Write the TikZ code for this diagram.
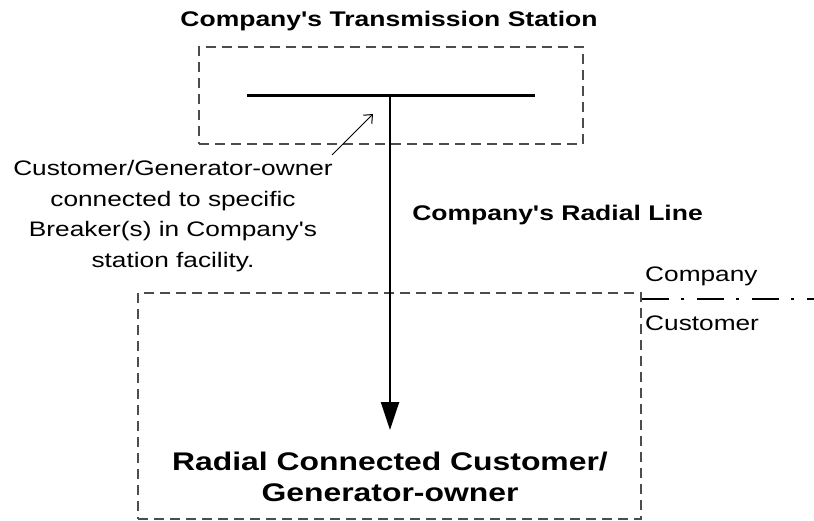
\documentclass[tikz,border=0pt]{standalone}
\usepackage{fontspec}
\newfontfamily\diagfont[FakeStretch=1.25]{Liberation Sans}
\usetikzlibrary{arrows.meta}

\begin{document}
\begin{tikzpicture}[x=1pt, y=-1pt,
  area/.style = {rectangle, draw=black!70, line width=1.7pt, dash pattern=on 10pt off 6pt},
  heading/.style = {font=\diagfont\bfseries\fontsize{21.2}{26}\selectfont, inner sep=0pt},
  plain/.style = {font=\diagfont\fontsize{21}{30.7}\selectfont, inner sep=0pt, align=center}]
  \useasboundingbox (0,0) rectangle (814,521);
  \node[area, minimum width=384pt, minimum height=97pt] (station) at (391,95.5) {};
  \node[area, minimum width=503pt, minimum height=226pt] (custbox) at (389.5,406) {};
  \node[heading] (title) at (389,21) {Company's Transmission Station};
  \node[heading] (radlabel) at (557.5,215) {Company's Radial Line};
  \node[plain] (note) at (173,216) {Customer/Generator-owner\\connected to specific\\Breaker(s) in Company's\\station facility.};
  \node[plain, anchor=west] (company) at (645,276) {Company};
  \node[plain, anchor=west] (customer) at (645,323) {Customer};
  \node[heading, font=\diagfont\bfseries\fontsize{25.5}{31}\selectfont, align=center] (custtext) at (390,477) {Radial Connected Customer/\\Generator-owner};
  \coordinate (busL) at (247,96);
  \coordinate (busR) at (535,96);
  \coordinate (tap) at (390,96);
  \coordinate (feed) at (390,430);
  \coordinate (noteref) at (332,155);
  \coordinate (breaker) at (373,114);
  \coordinate (bndL) at (642,299);
  \coordinate (bndR) at (814,299);
  \draw[line width=3pt] (busL) -- (busR);
  \draw[line width=2.4pt, -{Triangle[length=28pt, width=18pt]}] (tap) -- (feed);
  \draw[line width=1pt, -{Straight Barb[length=7pt, width=12pt]}] (noteref) -- (breaker);
  \draw[line width=2.6pt, dash pattern=on 27pt off 12pt on 3pt off 13pt] (bndL) -- (bndR);
\end{tikzpicture}
\end{document}
